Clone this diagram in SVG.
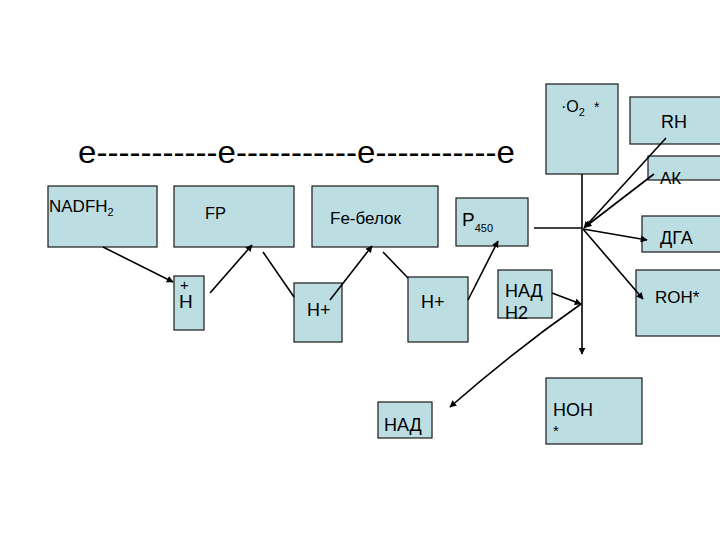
<svg xmlns="http://www.w3.org/2000/svg" width="720" height="540" viewBox="0 0 720 540">
<defs>
<marker id="ah" viewBox="0 0 10 10" refX="9" refY="5" markerWidth="7" markerHeight="7" orient="auto" markerUnits="userSpaceOnUse">
<path d="M0,0 L10,5 L0,10 z" fill="#000"/>
</marker>
</defs>
<style>
.box{fill:#bcdee3;stroke:#1a1a1a;stroke-width:1.2}
.t{font-family:"Liberation Sans",Arial,sans-serif;fill:#000}
.ln{stroke:#000;stroke-width:1.6;fill:none}
.ar{stroke:#000;stroke-width:1.6;fill:none;marker-end:url(#ah)}
</style>
<rect width="720" height="540" fill="#fff"/>
<text class="t" x="78" y="163" font-size="32" textLength="437" lengthAdjust="spacingAndGlyphs">e-----------e-----------e-----------e</text>
<g id="nadfh2"><rect class="box" x="48" y="186" width="109" height="61"/><text class="t" x="49" y="212" font-size="17">NADFH<tspan font-size="11" dy="4">2</tspan></text></g>
<g id="fp"><rect class="box" x="174" y="186" width="120" height="61"/><text class="t" x="205" y="219" font-size="16.5">FP</text></g>
<g id="febelok"><rect class="box" x="312" y="186" width="126" height="61"/><text class="t" x="330" y="224" font-size="17">Fe-белок</text></g>
<g id="p450"><rect class="box" x="456" y="198" width="72" height="48"/><text class="t" x="462" y="226" font-size="19">P<tspan font-size="11" dy="6">450</tspan></text></g>
<g id="o2"><rect class="box" x="546" y="84" width="72" height="90"/><text class="t" x="561" y="112" font-size="16">·O<tspan font-size="11" dy="4">2</tspan><tspan dy="-4" dx="9" font-size="14">*</tspan></text></g>
<g id="rh"><rect class="box" x="630" y="97" width="95" height="47"/><text class="t" x="661" y="128" font-size="18">RH</text></g>
<g id="ak"><rect class="box" x="648" y="156" width="77" height="24"/><text class="t" x="660" y="184" font-size="17">АК</text></g>
<g id="dga"><rect class="box" x="642" y="216" width="83" height="36"/><text class="t" x="660" y="244" font-size="18">ДГА</text></g>
<g id="h1"><rect class="box" x="174" y="276" width="30" height="54"/><text class="t" x="180" y="290" font-size="15">+</text><text class="t" x="179" y="308" font-size="19">H</text></g>
<g id="h2"><rect class="box" x="294" y="283" width="48" height="59"/><text class="t" x="307" y="316" font-size="18">H+</text></g>
<g id="h3"><rect class="box" x="408" y="277" width="60" height="65"/><text class="t" x="421" y="308" font-size="18">H+</text></g>
<g id="nadh2"><rect class="box" x="498" y="270" width="54" height="48"/><text class="t" x="505" y="297" font-size="18">НАД</text><text class="t" x="505" y="319" font-size="18">Н2</text></g>
<g id="roh"><rect class="box" x="636" y="270" width="89" height="66"/><text class="t" x="655" y="303" font-size="17">ROH*</text></g>
<g id="hoh"><rect class="box" x="546" y="378" width="96" height="66"/><text class="t" x="553" y="416" font-size="18">НОН</text><text class="t" x="553" y="436" font-size="15">*</text></g>
<g id="nad"><rect class="box" x="378" y="402" width="54" height="36"/><text class="t" x="384" y="431" font-size="18">НАД</text></g>
<g id="connectors">
<line class="ar" x1="103" y1="247" x2="173" y2="282"/>
<line class="ar" x1="210" y1="293" x2="252" y2="245"/>
<line class="ln" x1="263" y1="252" x2="294" y2="297"/>
<line class="ar" x1="330" y1="300" x2="372" y2="246"/>
<line class="ln" x1="383" y1="252" x2="408" y2="278"/>
<line class="ar" x1="468" y1="300" x2="498" y2="241"/>
<line class="ln" x1="534" y1="228" x2="582" y2="228"/>
<line class="ar" x1="582" y1="174" x2="582" y2="354"/>
<line class="ar" x1="666" y1="138" x2="584" y2="228"/>
<line class="ar" x1="654" y1="174" x2="585" y2="227"/>
<line class="ar" x1="583" y1="229" x2="647" y2="240"/>
<line class="ar" x1="583" y1="229" x2="643" y2="299"/>
<line class="ar" x1="552" y1="293" x2="581" y2="304"/>
<path class="ar" d="M581,304 Q515,350 450,407"/>
</g>
</svg>
